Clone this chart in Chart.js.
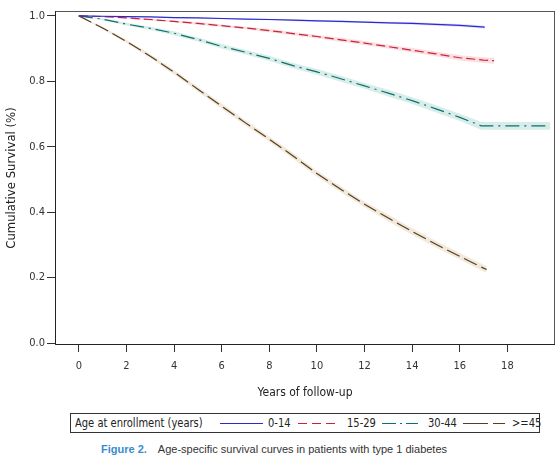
<!DOCTYPE html>
<html>
<head>
<meta charset="utf-8">
<script src="https://cdn.jsdelivr.net/npm/chart.js@4.4.1/dist/chart.umd.min.js"></script>
<style>
  body { margin: 0; background: #fff; width: 560px; height: 456px; position: relative; overflow: hidden; }
  #wrap { position: absolute; left: 0; top: 0; width: 560px; height: 405px; }
  .narrow { font-family: "DejaVu Sans Condensed", sans-serif; }
  #legend { position: absolute; left: 70px; top: 413px; width: 468px; height: 18px; border: 1px solid #333; font-size: 13px; color: #222; }
  #legend span, #legend svg { position: absolute; top: 0; line-height: 18px; white-space: nowrap; }
  #legend span { transform: scaleX(0.85); transform-origin: left center; }
  #caption { position: absolute; left: 101px; top: 443px; font-family: "Liberation Sans", Arial, sans-serif; font-size: 11px; color: #333; white-space: nowrap; }
  #caption b { color: #3a8ccc; margin-right: 11px; }
</style>
</head>
<body>
<div id="wrap"><canvas id="myChart" width="560" height="405"></canvas></div>

<div id="legend" class="narrow">
  <span style="left:4px">Age at enrollment (years)</span>
  <svg style="left:149px" width="44" height="18"><line x1="0" y1="9.5" x2="43" y2="9.5" stroke="#2a2ad0" stroke-width="1"/></svg>
  <span style="left:197px">0-14</span>
  <svg style="left:227px" width="40" height="18"><line x1="0" y1="9.5" x2="37" y2="9.5" stroke="#cc2238" stroke-width="1" stroke-dasharray="9 5"/></svg>
  <span style="left:276px">15-29</span>
  <svg style="left:311px" width="40" height="18"><line x1="0" y1="9.5" x2="36" y2="9.5" stroke="#0b7169" stroke-width="1" stroke-dasharray="14 4 2 4"/></svg>
  <span style="left:357px">30-44</span>
  <svg style="left:392px" width="44" height="18"><line x1="0" y1="9.5" x2="42" y2="9.5" stroke="#5a3d1e" stroke-width="1" stroke-dasharray="25 5"/></svg>
  <span style="left:441px">&gt;=45</span>
</div>

<div id="caption"><b>Figure 2.</b>Age-specific survival curves in patients with type 1 diabetes</div>

<script>
const xTicks = [0, 2, 4, 6, 8, 10, 12, 14, 16, 18];
const yTicks = [0, 0.2, 0.4, 0.6, 0.8, 1.0];

// 0-14
const yearsA = [0, 1, 2, 3, 4, 5, 6, 7, 8, 9, 10, 11, 12, 13, 14, 15, 16, 17.05];
const survA  = [1.0, 0.999, 0.998, 0.997, 0.995, 0.994, 0.992, 0.990, 0.989, 0.987, 0.985, 0.983, 0.981, 0.979, 0.977, 0.974, 0.971, 0.966];
const bandA  = [0, 0.001, 0.001, 0.001, 0.002, 0.002, 0.002, 0.002, 0.002, 0.003, 0.003, 0.003, 0.003, 0.003, 0.004, 0.004, 0.004, 0.005];

// 15-29
const yearsB = [0, 1, 2, 3, 4, 5, 6, 7, 8, 9, 10, 11, 12, 13, 14, 15, 16, 17, 17.44];
const survB  = [1.0, 0.998, 0.994, 0.989, 0.983, 0.977, 0.970, 0.963, 0.955, 0.946, 0.937, 0.927, 0.917, 0.906, 0.895, 0.884, 0.872, 0.865, 0.863];
const bandB  = [0, 0.002, 0.002, 0.003, 0.003, 0.004, 0.004, 0.004, 0.005, 0.005, 0.005, 0.006, 0.006, 0.006, 0.007, 0.007, 0.008, 0.009, 0.009];

// 30-44
const yearsC = [0, 1, 2, 3, 4, 5, 6, 7, 8, 9, 10, 11, 12, 13, 14, 15, 16, 16.9, 19.8];
const survC  = [1.0, 0.990, 0.975, 0.962, 0.947, 0.928, 0.907, 0.889, 0.870, 0.848, 0.829, 0.808, 0.786, 0.764, 0.741, 0.716, 0.690, 0.664, 0.664];
const bandC  = [0, 0.003, 0.004, 0.005, 0.006, 0.006, 0.007, 0.007, 0.008, 0.008, 0.009, 0.009, 0.009, 0.010, 0.010, 0.011, 0.011, 0.012, 0.012];

// >=45
const yearsD = [0, 1, 2, 3, 4, 5, 6, 7, 8, 9, 10, 11, 12, 13, 14, 15, 16, 17, 17.13];
const survD  = [1.0, 0.963, 0.922, 0.877, 0.828, 0.776, 0.724, 0.673, 0.623, 0.572, 0.518, 0.470, 0.424, 0.382, 0.341, 0.302, 0.265, 0.229, 0.225];
const bandD  = [0, 0.004, 0.005, 0.006, 0.007, 0.007, 0.008, 0.008, 0.008, 0.009, 0.009, 0.009, 0.009, 0.010, 0.010, 0.010, 0.010, 0.010, 0.010];

const groups = [
  { years: yearsA, surv: survA, band: bandA, color: "#2a2ad0", fillc: "rgba(195,195,245,0.5)", dash: [] },
  { years: yearsB, surv: survB, band: bandB, color: "#cc2238", fillc: "rgba(245,195,200,0.55)", dash: [9, 4] },
  { years: yearsC, surv: survC, band: bandC, color: "#0b7169", fillc: "rgba(190,225,220,0.6)", dash: [14, 5, 2, 5] },
  { years: yearsD, surv: survD, band: bandD, color: "#5a3d1e", fillc: "rgba(230,215,190,0.55)", dash: [14, 5] }
];

const pts = (xs, ys) => xs.map((x, i) => ({ x: x, y: ys[i] }));

const datasets = [];
groups.forEach(g => {
  datasets.push({
    data: pts(g.years, g.surv.map((v, i) => v + g.band[i])),
    borderWidth: 0, pointRadius: 0, fill: false, order: 3
  });
  datasets.push({
    data: pts(g.years, g.surv.map((v, i) => v - g.band[i])),
    borderWidth: 0, pointRadius: 0, fill: "-1", backgroundColor: g.fillc, order: 3
  });
});
groups.forEach(g => {
  datasets.push({
    data: pts(g.years, g.surv),
    borderColor: g.color, borderWidth: 1.2, borderDash: g.dash,
    pointRadius: 0, fill: false, tension: 0, order: 1
  });
});

const fam = "DejaVu Sans Condensed, sans-serif";

const framePlugin = {
  id: "frame",
  afterDraw(chart) {
    const a = chart.chartArea;
    const ctx = chart.ctx;
    ctx.save();
    ctx.strokeStyle = "#555";
    ctx.lineWidth = 1;
    ctx.strokeRect(a.left + 0.5, a.top + 0.5, a.right - a.left - 1, a.bottom - a.top - 1);
    ctx.strokeStyle = "#222";
    ctx.beginPath();
    ctx.moveTo(a.left + 0.5, a.top);
    ctx.lineTo(a.left + 0.5, a.bottom - 0.5);
    ctx.lineTo(a.right, a.bottom - 0.5);
    ctx.stroke();
    ctx.restore();
  }
};

let myChart = new Chart(document.getElementById("myChart"), {
  type: "line",
  data: { datasets },
  options: {
    responsive: false,
    animation: false,
    devicePixelRatio: 1,
    layout: { padding: { left: 0, top: 11, right: 5, bottom: 0 } },
    plugins: { legend: { display: false }, tooltip: { enabled: false } },
    scales: {
      x: {
        type: "linear",
        min: -1,
        max: 20,
        afterBuildTicks: axis => { axis.ticks = xTicks.map(v => ({ value: v })); },
        afterFit: scale => { scale.height = 60; },
        grid: { drawOnChartArea: false, drawTicks: true, tickLength: 7, color: "#333" },
        border: { display: false },
        ticks: { color: "#333", font: { family: fam, size: 11 }, padding: 8, maxRotation: 0 },
        title: { display: true, text: "Years of follow-up", color: "#222", font: { family: fam, size: 12 }, padding: { top: 0, bottom: 5 } }
      },
      y: {
        min: -0.006,
        max: 1.015,
        afterBuildTicks: axis => { axis.ticks = yTicks.map(v => ({ value: v })); },
        afterFit: scale => { scale.width = 55; },
        grid: { drawOnChartArea: false, drawTicks: true, tickLength: 8, color: "#333" },
        border: { display: false },
        ticks: { color: "#333", font: { family: fam, size: 11 }, padding: 2, callback: v => v.toFixed(1) },
        title: { display: true, text: "Cumulative Survival (%)", color: "#222", font: { family: fam, size: 13 }, padding: { top: 4, bottom: 0 } }
      }
    }
  },
  plugins: [framePlugin]
});
</script>
</body>
</html>
